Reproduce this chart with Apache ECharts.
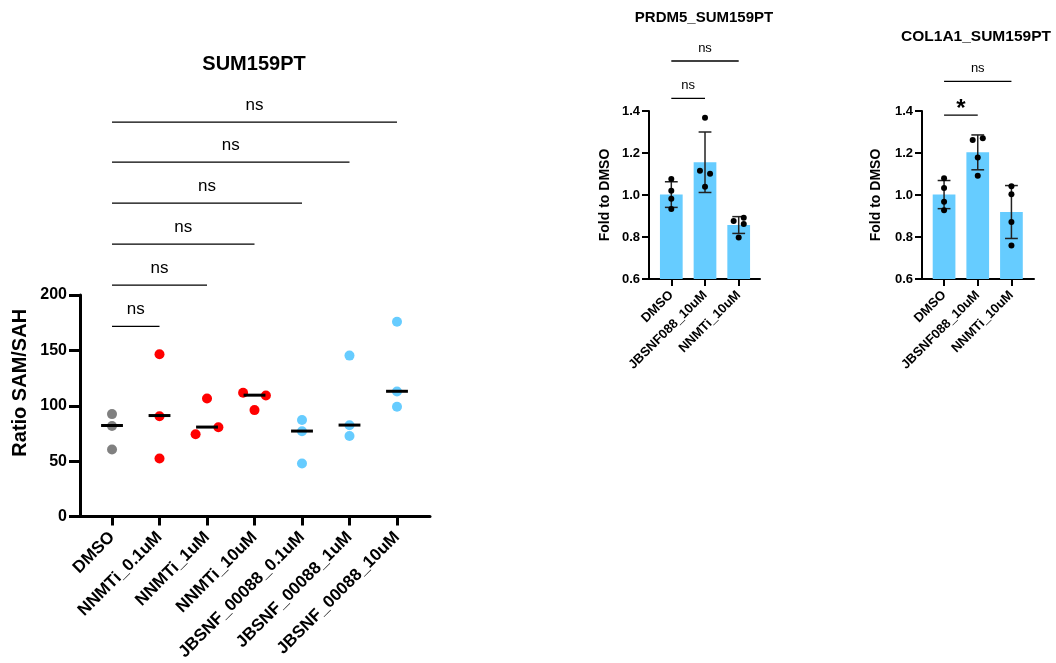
<!DOCTYPE html>
<html><head><meta charset="utf-8">
<script src="https://cdn.jsdelivr.net/npm/echarts@6/dist/echarts.min.js"></script>
<style>html,body{margin:0;padding:0;background:#fff}#c{width:1056px;height:663px}</style>
</head><body><div id="c"></div>
<script>
// ---------- Left panel: SUM159PT SAM/SAH ----------
const leftCategories = ['DMSO','NNMTi_0.1uM','NNMTi_1uM','NNMTi_10uM','JBSNF_00088_0.1uM','JBSNF_00088_1uM','JBSNF_00088_10uM'];
const dmso        = [92.5, 81.8, 60.5];
const nnmti01     = [146.5, 90.5, 52.4];
const nnmti1      = [106.6, 80.6, 74.3];
const nnmti10     = [111.7, 109.3, 96.1];
const jbsnf01     = [87.2, 77.0, 48.0];
const jbsnf1      = [145.3, 82.4, 72.8];
const jbsnf10     = [175.8, 112.9, 99.2];
const leftGroups  = [dmso, nnmti01, nnmti1, nnmti10, jbsnf01, jbsnf1, jbsnf10];
const leftJitter  = [[0,0,0],[0,0,0],[0,1,-1],[-1,1,0],[0,0,0],[0,0,0],[0,0,0]];
const leftMedians = [82.2, 91.2, 80.8, 109.6, 77.2, 82.6, 113.1];
const leftColors  = ['#808080','#ff0000','#ff0000','#ff0000','#66ccff','#66ccff','#66ccff'];
const leftPairs   = [[0,1],[0,2],[0,3],[0,4],[0,5],[0,6]];
const leftBracketY = [171.6, 209, 246, 283, 320, 356];
const leftBracketText = ['ns','ns','ns','ns','ns','ns'];

// ---------- Right panels ----------
const rightCategories = ['DMSO','JBSNF088_10uM','NNMTi_10uM'];
const prdm5Points = [[1.076, 1.020, 0.982, 0.933],[1.368, 1.116, 1.101, 1.039],[0.892, 0.876, 0.862, 0.798]];
const prdm5Jitter = [[0,0,0,0],[0,-1,1,0],[1,-1,1,0]];
const prdm5Mean   = [1.002, 1.156, 0.857];
const prdm5Sd     = [0.061, 0.144, 0.040];
const prdm5Pairs  = [[0,1],[0,2]];
const prdm5BracketY = [1.46, 1.638];
const prdm5BracketText = ['ns','ns'];

const col1a1Points = [[1.0795, 1.033, 0.968, 0.927],[1.262, 1.270, 1.178, 1.092],[1.042, 1.004, 0.871, 0.760]];
const col1a1Jitter = [[0,0,0,0],[-1,1,0,0],[0,0,0,0]];
const col1a1Mean   = [1.002, 1.203, 0.919];
const col1a1Sd     = [0.067, 0.083, 0.126];
const col1a1Pairs  = [[0,1],[0,2]];
const col1a1BracketY = [1.38, 1.541];
const col1a1BracketText = ['*','ns'];

const FONT = '"Liberation Sans", Arial, Helvetica, sans-serif';
const rightYMin = 0.6;

function bracketSeries(xi, yi, pairs, ys, texts, fontSize, gap) {
  return {
    type: 'custom', xAxisIndex: xi, yAxisIndex: yi, clip: false, silent: true, z: 5,
    data: pairs.map((p, i) => [p[0], p[1], ys[i], i]),
    renderItem: (params, api) => {
      const a = api.coord([api.value(0), api.value(2)]);
      const b = api.coord([api.value(1), api.value(2)]);
      const t = texts[api.value(3)];
      const star = t === '*';
      return {
        type: 'group',
        children: [
          { type: 'line', shape: { x1: a[0], y1: a[1], x2: b[0], y2: b[1] },
            style: { stroke: '#000', lineWidth: 1.3 } },
          { type: 'text', x: (a[0] + b[0]) / 2, y: a[1] - (star ? 6 : gap),
            style: { text: t, fill: '#000',
              font: (star ? 'bold 24px ' : 'normal ' + fontSize + 'px ') + FONT,
              textAlign: 'center', textVerticalAlign: 'middle', align: 'center', verticalAlign: 'middle' } }
        ]
      };
    }
  };
}

function leftSeries() {
  const pts = [];
  leftGroups.forEach((g, gi) => g.forEach((v, k) => {
    pts.push({ value: [gi + leftJitter[gi][k] * 0.24, v], itemStyle: { color: leftColors[gi], opacity: 1 } });
  }));
  return [
    { type: 'scatter', xAxisIndex: 0, yAxisIndex: 0, symbolSize: 10, data: pts, z: 3,
      itemStyle: { opacity: 1 } },
    { type: 'custom', xAxisIndex: 0, yAxisIndex: 0, z: 4,
      data: leftMedians.map((m, i) => [i, m]),
      renderItem: (params, api) => {
        const a = api.coord([api.value(0) - 0.23, api.value(1)]);
        const b = api.coord([api.value(0) + 0.23, api.value(1)]);
        return { type: 'line', shape: { x1: a[0], y1: a[1], x2: b[0], y2: b[1] },
          style: { stroke: '#000', lineWidth: 3 } };
      } },
    bracketSeries(0, 0, leftPairs, leftBracketY, leftBracketText, 17, 17)
  ];
}

function rightSeries(idx, points, jitter, means, sds, pairs, bys, btexts) {
  const pts = [];
  points.forEach((g, gi) => g.forEach((v, k) => pts.push([gi + jitter[gi][k] * 0.15, v])));
  return [
    { type: 'custom', xAxisIndex: idx, yAxisIndex: idx, z: 2,
      data: means.map((m, i) => [i, m]),
      renderItem: (params, api) => {
        const a = api.coord([api.value(0) - 0.337, api.value(1)]);
        const b = api.coord([api.value(0) + 0.337, rightYMin]);
        return { type: 'rect', shape: { x: a[0], y: a[1], width: b[0] - a[0], height: b[1] - a[1] },
          style: { fill: '#66ccff' } };
      } },
    { type: 'custom', xAxisIndex: idx, yAxisIndex: idx, z: 3,
      data: means.map((m, i) => [i, m, sds[i]]),
      renderItem: (params, api) => {
        const x = api.value(0), m = api.value(1), s = api.value(2);
        const top = api.coord([x, m + s]), bot = api.coord([x, m - s]);
        const tl = api.coord([x - 0.19, m + s]), tr = api.coord([x + 0.19, m + s]);
        const bl = api.coord([x - 0.19, m - s]), br = api.coord([x + 0.19, m - s]);
        const st = { stroke: '#222', lineWidth: 1.5 };
        return { type: 'group', children: [
          { type: 'line', shape: { x1: top[0], y1: top[1], x2: bot[0], y2: bot[1] }, style: st },
          { type: 'line', shape: { x1: tl[0], y1: tl[1], x2: tr[0], y2: tr[1] }, style: st },
          { type: 'line', shape: { x1: bl[0], y1: bl[1], x2: br[0], y2: br[1] }, style: st }
        ] };
      } },
    { type: 'scatter', xAxisIndex: idx, yAxisIndex: idx, symbolSize: 6, z: 4,
      itemStyle: { color: '#000', opacity: 1 }, data: pts },
    bracketSeries(idx, idx, pairs, bys, btexts, 13, 13)
  ];
}

function xAxisCfg(gridIndex, min, max, cats, lw, tickLen, fs, margin) {
  const vals = cats.map((c, i) => i);
  return {
    type: 'value', gridIndex, min, max,
    splitLine: { show: false },
    axisLine: { show: true, onZero: false, lineStyle: { color: '#000', width: lw } },
    axisTick: { show: true, customValues: vals, length: tickLen, lineStyle: { color: '#000', width: lw } },
    axisLabel: { customValues: vals, rotate: 45, margin, color: '#000', fontWeight: 'bold',
      fontSize: fs, fontFamily: FONT, formatter: v => cats[Math.round(v)] }
  };
}

function yAxisCfg(gridIndex, min, max, interval, lw, tickLen, fs, margin, name, nameFs, nameGap, namePad, fmt) {
  return {
    type: 'value', gridIndex, min, max, interval,
    splitLine: { show: false },
    axisLine: { show: true, onZero: false, lineStyle: { color: '#000', width: lw } },
    axisTick: { show: true, length: tickLen, lineStyle: { color: '#000', width: lw } },
    axisLabel: { color: '#000', fontWeight: 'bold', fontSize: fs, fontFamily: FONT, margin, formatter: fmt },
    name, nameLocation: 'middle', nameGap,
    nameTextStyle: { color: '#000', fontWeight: 'bold', fontSize: nameFs, fontFamily: FONT, padding: namePad }
  };
}

const chart = echarts.init(document.getElementById('c'), null, { renderer: 'canvas' });
chart.setOption({
  animation: false,
  backgroundColor: '#fff',
  textStyle: { fontFamily: FONT },
  title: [
    { text: 'SUM159PT', left: 254, top: 54, textAlign: 'center', padding: 0,
      textStyle: { fontSize: 20, fontWeight: 'bold', color: '#000', fontFamily: FONT } },
    { text: 'PRDM5_SUM159PT', left: 704, top: 10, textAlign: 'center', padding: 0,
      textStyle: { fontSize: 15, fontWeight: 'bold', color: '#000', fontFamily: FONT } },
    { text: 'COL1A1_SUM159PT', left: 976, top: 29, textAlign: 'center', padding: 0,
      textStyle: { fontSize: 15.5, fontWeight: 'bold', color: '#000', fontFamily: FONT } }
  ],
  grid: [
    { left: 80, top: 295, width: 350, height: 222.7 },
    { left: 649, top: 111, width: 111, height: 168 },
    { left: 922, top: 111, width: 112, height: 168 }
  ],
  xAxis: [
    xAxisCfg(0, -0.674, 6.695, leftCategories, 3, 9, 17, 18),
    xAxisCfg(1, -0.662, 2.632, rightCategories, 2, 7, 13, 14),
    xAxisCfg(2, -0.655, 2.67, rightCategories, 2, 7, 13, 14)
  ],
  yAxis: [
    yAxisCfg(0, 0, 200, 50, 3, 11, 16, 13, 'Ratio SAM/SAH', 20, 50, [0, 0, 0, 46], v => v),
    yAxisCfg(1, 0.6, 1.4, 0.2, 2, 7, 13, 9, 'Fold to DMSO', 14, 37, 0, v => v.toFixed(1)),
    yAxisCfg(2, 0.6, 1.4, 0.2, 2, 7, 13, 9, 'Fold to DMSO', 14, 39, 0, v => v.toFixed(1))
  ],
  series: [
    ...leftSeries(),
    ...rightSeries(1, prdm5Points, prdm5Jitter, prdm5Mean, prdm5Sd, prdm5Pairs, prdm5BracketY, prdm5BracketText),
    ...rightSeries(2, col1a1Points, col1a1Jitter, col1a1Mean, col1a1Sd, col1a1Pairs, col1a1BracketY, col1a1BracketText)
  ]
});
</script></body></html>
